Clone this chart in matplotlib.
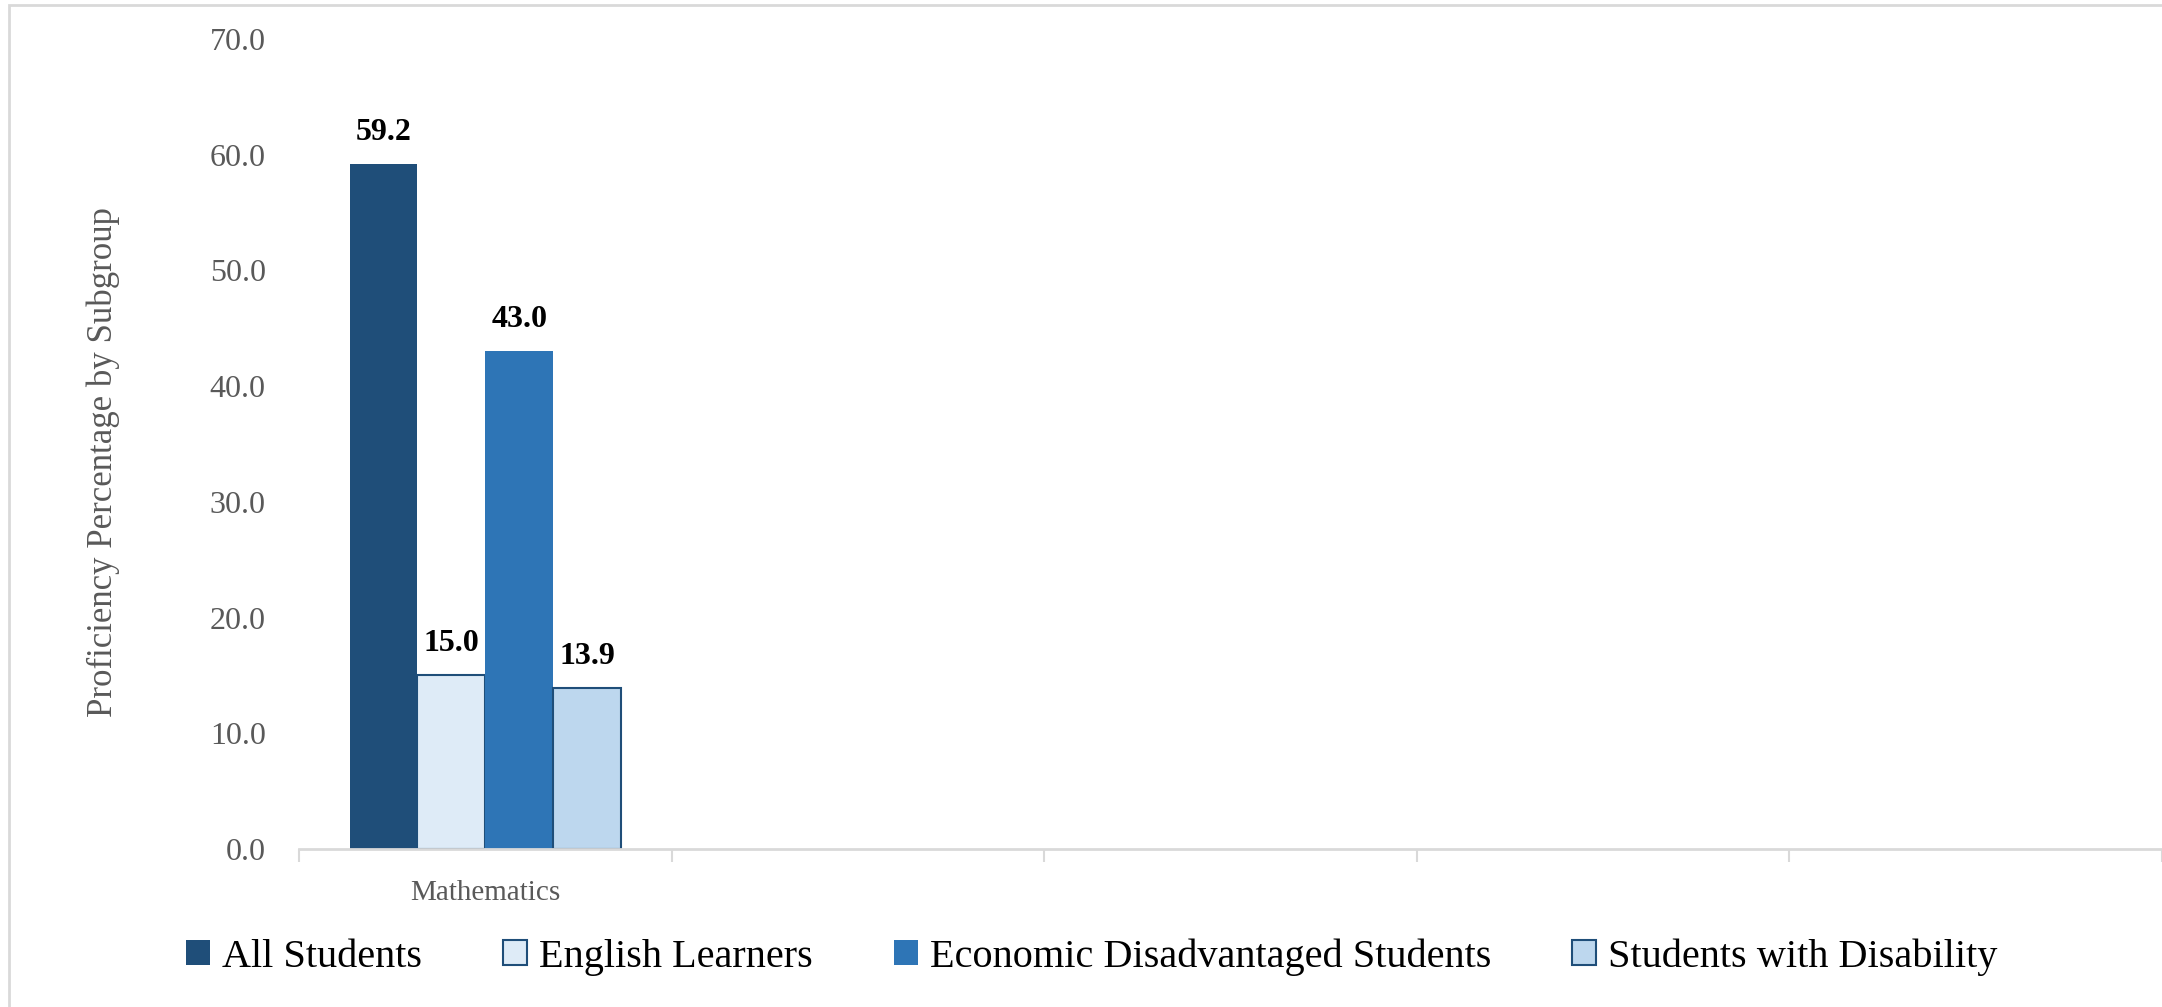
import matplotlib
matplotlib.use("Agg")
import matplotlib.pyplot as plt
from matplotlib.patches import Rectangle
import numpy as np

# data
categories = ["Mathematics", "", "", "", ""]
series_names = ["All Students", "English Learners",
                "Economic Disadvantaged Students", "Students with Disability"]
series_values = [59.2, 15.0, 43.0, 13.9]
series_colors = ["#1F4E79", "#DEEBF7", "#2E75B6", "#BDD7EE"]
series_edges = ["#1F4E79", "#1F4E79", "#2E75B6", "#1F4E79"]
yticks = [0, 10, 20, 30, 40, 50, 60, 70]

plt.rcParams['font.family'] = ['Liberation Serif', 'DejaVu Serif']

W, H = 2162, 1007
fig = plt.figure(figsize=(W / 100, H / 100), dpi=100)
ax = fig.add_axes([299 / W, 1 - 849 / H, 1 - 299 / W, (849 - 39) / H])

grey = "#595959"
light = "#D9D9D9"

nser = len(series_names)
bw = 0.182
x0 = 0
for i in range(nser):
    xpos = x0 + (i - (nser - 1) / 2) * bw
    lw = 1.5 if series_edges[i] != series_colors[i] else 0
    ax.bar(xpos, series_values[i], width=bw, color=series_colors[i],
           edgecolor=series_edges[i], linewidth=lw, label=series_names[i], zorder=2)
    ax.annotate("%.1f" % series_values[i], (xpos, series_values[i]),
                xytext=(0, 23), textcoords="offset points",
                ha="center", va="center", fontsize=23, fontweight="bold",
                color="black")

ax.set_xlim(-0.5, len(categories) - 0.5)
ax.set_ylim(0, 70)
ax.set_yticks(yticks)
ax.set_yticklabels(["%.1f" % v for v in yticks])
ax.tick_params(axis="y", length=0, pad=24, labelsize=23, labelcolor=grey)

ax.set_xticks(np.arange(len(categories)))
ax.set_xticklabels(categories)
ax.tick_params(axis="x", which="major", length=0, pad=22, labelsize=21, labelcolor=grey)
ax.set_xticks(np.arange(len(categories) + 1) - 0.5, minor=True)
ax.tick_params(axis="x", which="minor", length=9, width=1.5, color=light)

for s in ["top", "right", "left"]:
    ax.spines[s].set_visible(False)
ax.spines["bottom"].set_color(light)
ax.spines["bottom"].set_linewidth(2)
ax.spines["bottom"].set_zorder(3)

fig.text(103 / W, 1 - 462 / H, "Proficiency Percentage by Subgroup",
         rotation=90, ha="center", va="center", fontsize=25, color=grey)

handles, labels = ax.get_legend_handles_labels()
fig.legend(handles, labels, loc="center", bbox_to_anchor=(0.505, 1 - 957 / H),
           ncol=4, frameon=False, fontsize=29, handlelength=0.6, handleheight=0.6,
           handletextpad=0.3, columnspacing=2.0)

# chart border
fig.add_artist(Rectangle((9 / W, -0.05), 1.1, 1 - 5 / H + 0.05,
                         transform=fig.transFigure, fill=False,
                         edgecolor=light, linewidth=2))

fig.savefig("out.png", dpi=100)
